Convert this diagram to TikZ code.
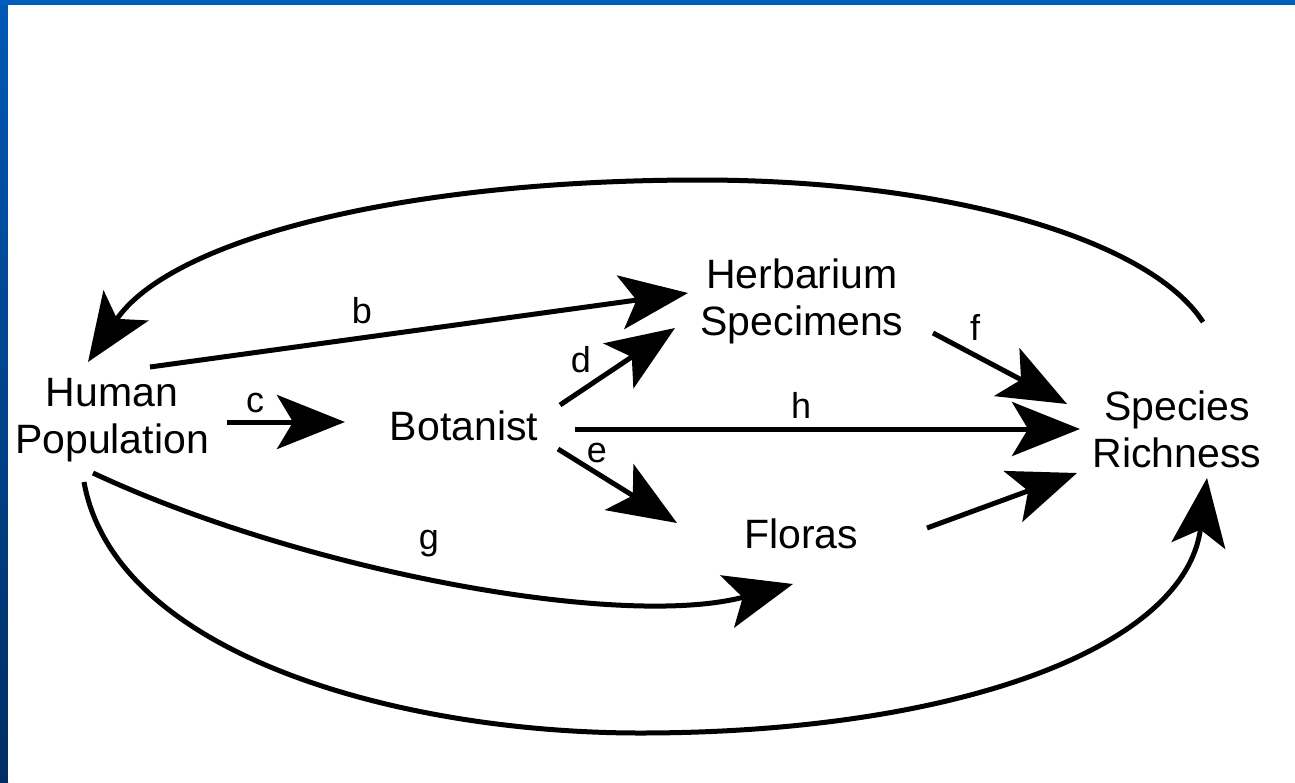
\documentclass[tikz,border=0pt]{standalone}
\usepackage{fontspec}
\setmainfont{Liberation Sans}
\usetikzlibrary{arrows.meta}
\definecolor{frameblue}{RGB}{0,94,188}
\definecolor{frametop}{RGB}{0,88,180}
\definecolor{framebot}{RGB}{0,46,100}
\begin{document}
\begin{tikzpicture}[x=1pt,y=-1pt,
  conn/.style={line width=5pt,-{Stealth[length=68pt,width=54pt,inset=16pt]}},
  term/.style={font=\fontsize{41}{47}\selectfont,align=center,inner sep=0pt},
  lab/.style={font=\fontsize{36}{40}\selectfont,inner sep=0pt,anchor=base}]
\useasboundingbox (0,0) rectangle (1295,782);
% frame
\fill[frameblue] (0,0) rectangle (1295,782);
\shade[top color=frametop,bottom color=framebot] (0,5) rectangle (8,782);
\fill[white] (8,5) rectangle (1295,782);
% nodes
\node[term] (hp) at (112,420) {Human\\Population};
\node[term,anchor=base] (bot) at (464,440) {Botanist};
\node[term] (herb) at (802,301) {Herbarium\\Specimens};
\node[term,anchor=base] (flo) at (801,548) {Floras};
\node[term] (sr) at (1177,429) {Species\\Richness};
% connector ends
\coordinate (topS) at (1203,322);
\coordinate (topE) at (88,362);
\coordinate (bS) at (150,367);
\coordinate (bE) at (688,293);
\coordinate (cS) at (227,422);
\coordinate (cE) at (345,422);
\coordinate (dS) at (560,405);
\coordinate (dE) at (675,328);
\coordinate (eS) at (558,449);
\coordinate (eE) at (677,523);
\coordinate (hS) at (575,429);
\coordinate (hE) at (1080,429);
\coordinate (fS) at (933,333);
\coordinate (fE) at (1067,404);
\coordinate (flS) at (927,528);
\coordinate (flE) at (1077,473);
\coordinate (gS) at (93,473);
\coordinate (gE) at (793,584);
\coordinate (boS) at (84,482);
\coordinate (boE) at (1207,478);
% connectors
\draw[conn] (topS) .. controls (1150,240) and (950,180) .. (700,180)
  .. controls (400,180) and (170,240) .. (topE);
\draw[conn] (bS) -- (bE);
\draw[conn] (cS) -- (cE);
\draw[conn] (dS) -- (dE);
\draw[conn] (eS) -- (eE);
\draw[conn] (hS) -- (hE);
\draw[conn] (fS) -- (fE);
\draw[conn] (flS) -- (flE);
\draw[conn] (gS) .. controls (300,570) and (620,630) .. (gE);
\draw[conn] (boS) .. controls (115,655) and (400,733) .. (640,733)
  .. controls (950,733) and (1185,650) .. (boE);
% labels
\node[lab] (lb) at (362,323) {b};
\node[lab] (lc) at (255,412) {c};
\node[lab] (ld) at (581,372) {d};
\node[lab] (le) at (597,462) {e};
\node[lab] (lf) at (975,340) {f};
\node[lab] (lg) at (429,549) {g};
\node[lab] (lh) at (801,418) {h};
\end{tikzpicture}
\end{document}
